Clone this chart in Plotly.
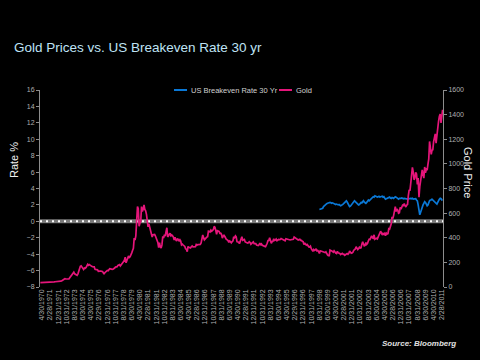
import pandas as pd
import plotly.graph_objects as go

# ---------------- data ----------------
GOLD_START = "1970-02-28"   # month-end series, monthly
GOLD = [
    35.0, 35.1, 36.0, 35.4, 35.4, 35.3, 35.4, 36.2, 37.5, 37.4, 37.4,
    37.9, 38.7, 38.9, 39.9, 40.5, 40.1, 41.0, 42.6, 42.6, 42.5, 42.9, 43.6,
    48.3, 48.3, 48.3, 49.0, 54.6, 62.1, 65.7, 67.0, 65.5, 64.9, 62.9, 63.9,
    65.1, 74.2, 84.4, 90.5, 102.0, 120.1, 120.2, 106.8, 103.0, 100.0, 94.8, 106.7,
    129.2, 150.2, 168.4, 172.2, 163.3, 154.1, 143.0, 154.6, 151.8, 158.8, 181.7, 183.8,
    175.8, 181.8, 177.8, 167.1, 167.4, 164.2, 165.2, 163.1, 144.1, 142.9, 138.8, 139.3,
    128.2, 132.3, 129.6, 128.4, 126.9, 125.6, 117.3, 104.0, 116.0, 123.2, 131.3, 134.5,
    132.3, 142.2, 148.9, 147.2, 143.4, 143.0, 144.1, 146.0, 154.1, 161.5, 160.5, 165.0,
    175.8, 182.3, 181.6, 170.9, 183.1, 183.1, 200.3, 208.1, 217.1, 242.6, 196.6, 226.0,
    233.7, 251.3, 240.1, 245.3, 274.6, 277.5, 296.5, 315.1, 397.3, 382.0, 415.7, 512.0,
    653, 637, 494, 518, 535, 653, 614, 631, 666, 629, 619, 590,
    506, 489, 513, 482, 479, 426, 406, 425, 428, 427, 414, 400,
    387, 362, 320, 361, 325, 317, 342, 411, 397, 424, 414, 448,
    481, 408, 414, 429, 437, 416, 422, 415, 405, 382, 405, 382,
    373, 394, 388, 375, 384, 373, 342, 348, 341, 333, 329, 309,
    306, 287, 329, 322, 316, 317, 327, 333, 326, 325, 325, 327,
    345, 339, 344, 345, 343, 345, 357, 384, 423, 401, 383, 391,
    405, 405, 409, 453, 451, 447, 462, 453, 459, 466, 492, 484,
    458, 427, 457, 452, 452, 436, 437, 427, 397, 412, 423, 410,
    394, 387, 383, 377, 362, 373, 368, 359, 367, 375, 408, 401,
    415, 407, 368, 367, 363, 352, 372, 387, 408, 380, 384, 386,
    366, 363, 355, 357, 360, 368, 362, 347, 354, 358, 366, 353,
    354, 353, 341, 337, 337, 343, 357, 340, 349, 339, 334, 333,
    330, 328, 337, 355, 377, 378, 401, 372, 355, 369, 371, 391,
    378, 381, 389, 376, 387, 386, 385, 386, 394, 389, 383, 383,
    375, 376, 392, 389, 385, 387, 383, 382, 384, 383, 387, 387,
    405, 400, 396, 392, 391, 382, 385, 387, 379, 379, 371, 369,
    345, 358, 348, 340, 345, 334, 326, 325, 332, 311, 296, 290,
    304, 297, 301, 310, 293, 296, 288, 273, 294, 292, 294, 288,
    287, 288, 280, 286, 268, 261, 255, 255, 300, 299, 292, 290,
    283, 294, 279, 276, 272, 289, 277, 278, 273, 264, 270, 273,
    266, 267, 258, 264, 267, 271, 266, 273, 293, 279, 275, 277,
    282, 297, 302, 309, 327, 318, 304, 312, 324, 317, 319, 348,
    368, 350, 334, 337, 361, 346, 354, 375, 388, 386, 398, 416,
    399, 396, 424, 388, 393, 396, 391, 408, 416, 426, 453, 438,
    422, 435, 428, 435, 417, 437, 430, 433, 473, 470, 495, 513,
    569, 556, 582, 645, 653, 613, 633, 624, 600, 604, 646, 632,
    651, 665, 662, 677, 659, 650, 665, 672, 743, 789, 783, 834,
    923, 971, 934, 871, 885, 930, 918, 833, 884, 730, 815, 870,
    919, 952, 916, 884, 975, 927, 955, 949, 996, 1040, 1182, 1087,
    1078, 1109, 1115, 1180, 1207, 1244, 1169, 1246, 1307, 1346, 1386, 1405,
    1333, 1411, 1439,
]

BE_START = "1998-08-31"     # month-end series, monthly
BREAKEVEN = [
    1.45, 1.5, 1.45, 1.55, 1.6,
    1.8, 1.9, 2.0, 2.1, 2.15, 2.2, 2.25, 2.2, 2.3, 2.25, 2.2, 2.25,
    2.2, 2.1, 2.0, 2.05, 2.1, 2.0, 2.0, 2.05, 1.95, 1.9, 1.95, 2.0,
    2.1, 2.2, 2.3, 2.4, 2.5, 2.35, 2.1, 1.9, 1.8, 1.85, 2.0, 2.2,
    2.3, 2.35, 2.5, 2.4, 2.3, 2.2, 2.1, 2.0, 2.05, 2.2, 2.3, 2.25,
    2.4, 2.5, 2.35, 2.3, 2.2, 2.3, 2.5, 2.6, 2.5, 2.6, 2.7, 2.8,
    2.9, 3.0, 2.95, 3.1, 3.05, 3.0, 2.95, 3.0, 3.05, 2.95, 3.0, 3.0,
    3.05, 2.95, 3.0, 2.85, 2.7, 2.75, 2.8, 2.85, 2.9, 2.95, 2.85, 2.8,
    2.9, 2.85, 2.8, 2.9, 3.0, 2.95, 2.85, 2.75, 2.7, 2.8, 2.75, 2.8,
    2.85, 2.8, 2.75, 2.8, 2.75, 2.8, 2.75, 2.7, 2.75, 2.8, 2.75, 2.8,
    2.75, 2.8, 2.7, 2.75, 2.8, 2.75, 2.6, 2.5, 2.0, 1.3, 0.8, 1.1,
    1.5, 1.8, 2.0, 2.2, 2.4, 2.3, 2.1, 1.9, 2.0, 2.3, 2.5, 2.6,
    2.6, 2.7, 2.6, 2.5, 2.4, 2.3, 2.2, 2.1, 2.3, 2.6, 2.7, 2.8,
    2.75, 2.6, 2.65,
]

TICK_LABELS = [
    "4/30/1970", "2/28/1971", "12/31/1971", "10/31/1972", "8/31/1973", "6/30/1974",
    "4/30/1975", "2/29/1976", "12/31/1976", "10/31/1977", "8/31/1978", "6/30/1979",
    "4/30/1980", "2/28/1981", "12/31/1981", "10/31/1982", "8/31/1983", "6/30/1984",
    "4/30/1985", "2/28/1986", "12/31/1986", "10/31/1987", "8/31/1988", "6/30/1989",
    "4/30/1990", "2/28/1991", "12/31/1991", "10/31/1992", "8/31/1993", "6/30/1994",
    "4/30/1995", "2/29/1996", "12/31/1996", "10/31/1997", "8/31/1998", "6/30/1999",
    "4/30/2000", "2/28/2001", "12/31/2001", "10/31/2002", "8/31/2003", "6/30/2004",
    "4/30/2005", "2/28/2006", "12/31/2006", "10/31/2007", "8/31/2008", "6/30/2009",
    "4/30/2010", "2/28/2011",
]

SERIES_NAMES = ["US Breakeven Rate 30 Yr", "Gold"]
COLORS = ["#0A78D6", "#E5157A"]

# ---------------- build ----------------
gold_x = pd.date_range(GOLD_START, periods=len(GOLD), freq="ME")
be_x = pd.date_range(BE_START, periods=len(BREAKEVEN), freq="ME")
tick_vals = pd.to_datetime(TICK_LABELS, format="%m/%d/%Y")

FONT = "Liberation Sans, Arial, sans-serif"
GRAY = "#b0b0b0"
AXIS = "#8c8c8c"

fig = go.Figure()
fig.add_trace(go.Scatter(x=be_x, y=BREAKEVEN, name=SERIES_NAMES[0], mode="lines",
                         line=dict(color=COLORS[0], width=1.7), yaxis="y"))
fig.add_trace(go.Scatter(x=gold_x, y=GOLD, name=SERIES_NAMES[1], mode="lines",
                         line=dict(color=COLORS[1], width=1.7), yaxis="y2"))

def px_x(x):
    return (x - 40) / 403.0

def px_y(y):
    return (287 - y) / 197.0

shapes = [
    dict(type="line", xref="paper", yref="y", x0=0, x1=1, y0=0, y1=0,
         line=dict(color="#7a7a7a", width=4), layer="below"),
    dict(type="line", xref="paper", yref="y", x0=0, x1=1, y0=0, y1=0,
         line=dict(color="#ffffff", width=2, dash="2px,4px"), layer="below"),
    # manual legend samples
    dict(type="line", xref="paper", yref="paper", x0=px_x(174), x1=px_x(187),
         y0=px_y(90), y1=px_y(90), line=dict(color=COLORS[0], width=2)),
    dict(type="line", xref="paper", yref="paper", x0=px_x(279), x1=px_x(292),
         y0=px_y(90), y1=px_y(90), line=dict(color=COLORS[1], width=2)),
]

annotations = [
    dict(text=SERIES_NAMES[0], xref="paper", yref="paper", x=px_x(189), y=px_y(90),
         xanchor="left", yanchor="middle", showarrow=False,
         font=dict(family=FONT, size=7.5, color="#d0d0d0")),
    dict(text=SERIES_NAMES[1], xref="paper", yref="paper", x=px_x(294), y=px_y(90),
         xanchor="left", yanchor="middle", showarrow=False,
         font=dict(family=FONT, size=7.5, color="#d0d0d0")),
    dict(text="Rate %", xref="paper", yref="paper", x=px_x(14), y=px_y(160),
         xanchor="center", yanchor="middle", textangle=-90, showarrow=False,
         font=dict(family=FONT, size=11, color="#f0f0f0")),
    dict(text="Gold Price", xref="paper", yref="paper", x=px_x(468), y=px_y(172),
         xanchor="center", yanchor="middle", textangle=90, showarrow=False,
         font=dict(family=FONT, size=11, color="#f0f0f0")),
    dict(text="<b><i>Source: Bloomberg</i></b>", xref="paper", yref="paper",
         x=px_x(458), y=px_y(343), xanchor="right", yanchor="middle", showarrow=False,
         font=dict(family=FONT, size=8, color="#e0e0e0")),
]

axis_common = dict(showgrid=False, zeroline=False, showline=True, linecolor=AXIS,
                   linewidth=1, ticks="outside", ticklen=3, tickcolor=AXIS,
                   tickfont=dict(family=FONT, size=7, color=GRAY))

fig.update_layout(
    width=480, height=360,
    paper_bgcolor="black", plot_bgcolor="black",
    margin=dict(l=40, r=37, t=90, b=73, pad=0),
    showlegend=False,
    title=dict(text="Gold Prices vs. US Breakeven Rate 30 yr", xref="container", yref="container",
               x=14 / 480, y=1 - 47 / 360, xanchor="left", yanchor="middle",
               font=dict(family=FONT, size=13.5, color="#BFE3F5")),
    xaxis=dict(type="date", range=["1970-02-15", "2011-04-15"], tickvals=tick_vals,
               ticktext=TICK_LABELS, tickangle=-90, showgrid=False, zeroline=False,
               showline=False, ticks="", tickfont=dict(family=FONT, size=7, color=GRAY)),
    yaxis=dict(range=[-8, 16], dtick=2, side="left", **axis_common),
    yaxis2=dict(range=[0, 1600], dtick=200, side="right", overlaying="y", **axis_common),
    shapes=shapes,
    annotations=annotations,
)

fig.write_html(
    "out.html",
    config={"displayModeBar": False},
    post_script="document.body.style.margin='0';document.body.style.background='black';",
)
